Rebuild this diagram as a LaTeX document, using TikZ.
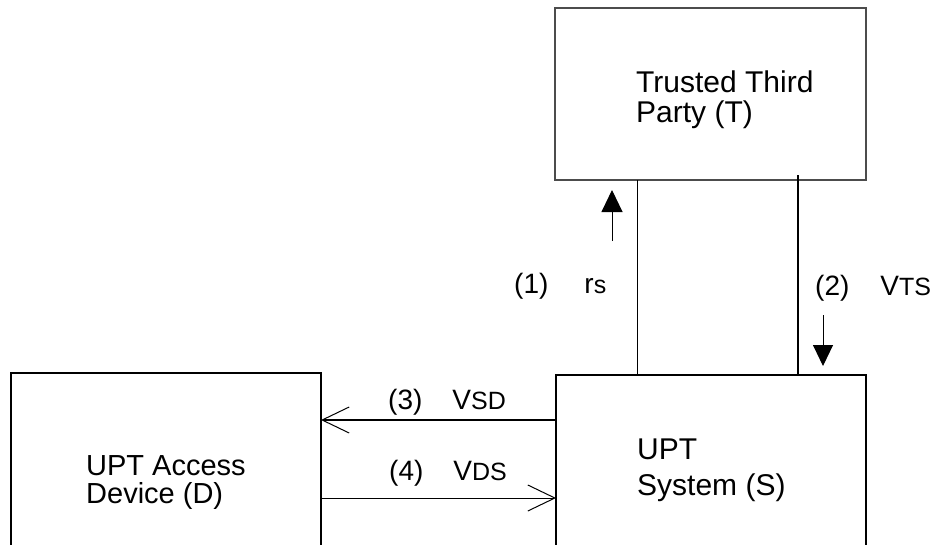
\documentclass[tikz,border=0pt]{standalone}
\usepackage{fontspec}
\setmainfont{Liberation Sans}
\usetikzlibrary{arrows.meta}
% smaller letters of the message names (r_S, V_TS, ...)
\newcommand\msgsub[1]{{\fontsize{25}{25}\selectfont #1}}
\begin{document}
\begin{tikzpicture}[x=1pt,y=-1pt,
  box/.style={draw=black, line width=1.1pt, rectangle, inner sep=0pt, outer sep=0pt, anchor=north west},
  boxtext/.style={anchor=base west, inner sep=0pt, font=\fontsize{30}{30}\selectfont},
  lbl/.style={anchor=base west, inner sep=0pt, font=\fontsize{28}{28}\selectfont},
  wire/.style={line width=1pt},
  heavywire/.style={line width=2.5pt},
  solidtip/.style={-{Triangle[length=22pt,width=21pt]}},
  opentip/.style={-{Straight Barb[length=27pt,width=26pt,line width=1pt]}}]
\useasboundingbox (0,0) rectangle (931,544);
\clip (0,0) rectangle (931,544);

% the three parties
\node[box, draw=black!70, line width=1.5pt, minimum width=311pt, minimum height=172pt] (T) at (555,8) {};
\node[box, minimum width=310pt, minimum height=220pt] (S) at (556,375) {};
\node[box, minimum width=310pt, minimum height=220pt] (D) at (11,373) {};

\node[boxtext] (t1) at (636,92)  {Trusted Third};
\node[boxtext] (t2) at (636,122) {Party (T)};
\node[boxtext] (s1) at (637,459) {UPT};
\node[boxtext] (s2) at (637,495) {System (S)};
% the device name is set tightly: first line has no descenders
\node[boxtext, font=\fontsize{29}{29}\selectfont, text depth=0pt] (d1) at (86,475)  {UPT Access};
\node[boxtext, font=\fontsize{29}{29}\selectfont, text height=21pt] (d2) at (86,503)  {Device (D)};

% links between T and S
\coordinate (k1) at (637,0);
\coordinate (k2) at (798,175);
\draw[wire] (T.south -| k1) -- (S.north -| k1);
\draw[heavywire] (k2) -- (S.north -| k2);

% direction markers beside the T--S links
\coordinate (u0) at (612,241);
\coordinate (u1) at (612,190);
\draw[wire, solidtip] (u0) -- (u1);
\coordinate (w0) at (823,315);
\coordinate (w1) at (823,366);
\draw[wire, -{Triangle[length=21pt,width=20pt]}] (w0) -- (w1);

% messages between S and D
\coordinate (h3) at (0,420);
\coordinate (h4) at (0,498);
\draw[line width=2pt, opentip] (S.west |- h3) -- (D.east |- h3);
\draw[wire, opentip] (D.east |- h4) -- (S.west |- h4);

% message labels
\node[lbl] (m1) at (514,293) {(1)\hspace{36pt}r\msgsub{s}};
\node[lbl] (m2) at (815,295) {(2)\hspace{31pt}V\msgsub{TS}};
\node[lbl] (m3) at (388,409) {(3)\hspace{30pt}V\msgsub{SD}};
\node[lbl] (m4) at (389,480) {(4)\hspace{30pt}V\msgsub{DS}};
\end{tikzpicture}
\end{document}
